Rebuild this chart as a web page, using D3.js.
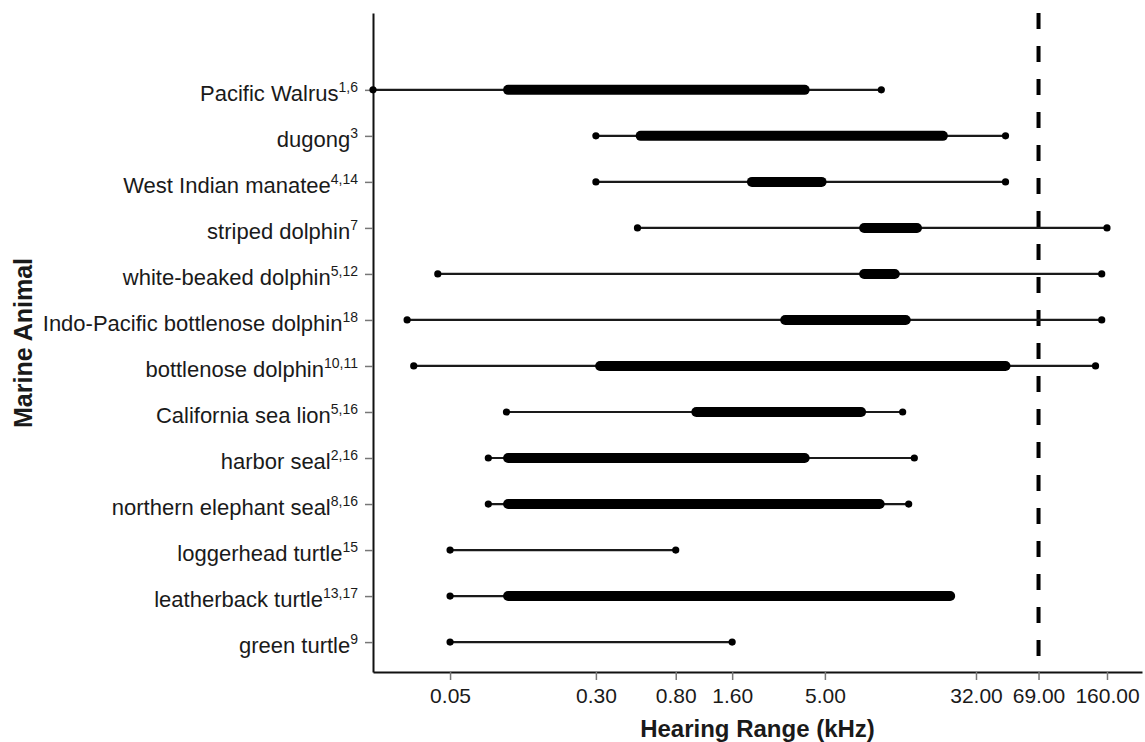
<!DOCTYPE html>
<html>
<head>
<meta charset="utf-8">
<script src="https://cdn.jsdelivr.net/npm/d3@7"></script>
<style>
  body { margin: 0; background: #fff; }
  text { font-family: Arial, "Liberation Sans", sans-serif; fill: #1a1a1a; }
</style>
</head>
<body>
<div id="chart"></div>
<script>
// species listed top to bottom, with reference superscripts
var animals = ["Pacific Walrus", "dugong", "West Indian manatee", "striped dolphin",
  "white-beaked dolphin", "Indo-Pacific bottlenose dolphin", "bottlenose dolphin",
  "California sea lion", "harbor seal", "northern elephant seal",
  "loggerhead turtle", "leatherback turtle", "green turtle"];
var refs = ["1,6", "3", "4,14", "7", "5,12", "18", "10,11", "5,16", "2,16", "8,16", "15", "13,17", "9"];

// full hearing range (kHz)
var minHz = [0.0194, 0.3, 0.3, 0.5, 0.043, 0.0295, 0.032, 0.1, 0.08, 0.08, 0.05, 0.05, 0.05];
var maxHz = [10, 46, 46, 160, 150, 150, 139, 13, 15, 14, 0.8, 23.3, 1.6];
// most sensitive range (kHz), null where none
var bestLow  = [0.102, 0.52, 2.04, 8.1, 8.1, 3.07, 0.316, 1.03, 0.102, 0.102, null, 0.102, null];
var bestHigh = [3.9, 21.3, 4.8, 15.5, 11.8, 13.5, 46, 7.8, 3.9, 9.8, null, 23.3, null];

var xTicks = [0.05, 0.3, 0.8, 1.6, 5, 32, 69, 160];
var cutoff = 69;

var width = 1145, height = 742;

var svg = d3.select("#chart").append("svg")
    .attr("width", width)
    .attr("height", height);

var x = d3.scaleLog()
    .domain([0.0194, 246])
    .range([373, 1142]);

var y = d3.scaleLinear()
    .domain([-1.67, 12.65])
    .range([13, 672]);

// x axis
var xAxis = svg.append("g")
    .attr("transform", "translate(0," + y.range()[1] + ")")
    .call(d3.axisBottom(x).tickValues(xTicks).tickFormat(d3.format(".2f")).tickSize(8).tickSizeOuter(0));
xAxis.select(".domain").attr("stroke", "#111").attr("stroke-width", 2);
xAxis.selectAll(".tick line").attr("stroke", "#777").attr("stroke-width", 1.5);
xAxis.selectAll(".tick text")
    .attr("y", 16)
    .style("font-size", "21px")
    .style("font-family", "Arial, 'Liberation Sans', sans-serif")
    .attr("fill", "#1a1a1a");

// y axis
var yAxis = svg.append("g")
    .attr("transform", "translate(" + x.range()[0] + ",0)")
    .call(d3.axisLeft(y).tickValues(d3.range(animals.length)).tickFormat("").tickSize(8).tickSizeOuter(0));
yAxis.select(".domain").attr("stroke", "#111").attr("stroke-width", 2);
yAxis.selectAll(".tick line").attr("stroke", "#777").attr("stroke-width", 1.5);

// species labels with superscripts
var labels = svg.append("g").selectAll("text")
    .data(animals)
    .join("text")
    .attr("x", x.range()[0] - 15)
    .attr("y", function(d, i) { return y(i) + 11; })
    .attr("text-anchor", "end")
    .style("font-size", "22px");
labels.append("tspan").text(function(d) { return d; });
labels.append("tspan")
    .attr("dy", -9)
    .style("font-size", "14px")
    .text(function(d, i) { return refs[i]; });

// cutoff dashed line
svg.append("line")
    .attr("x1", x(cutoff)).attr("x2", x(cutoff))
    .attr("y1", y.range()[0]).attr("y2", y.range()[1])
    .attr("stroke", "#000")
    .attr("stroke-width", 4)
    .attr("stroke-dasharray", "16,17");

var rows = svg.append("g").selectAll("g")
    .data(animals)
    .join("g");

// full range
rows.append("line")
    .attr("x1", function(d, i) { return x(minHz[i]); })
    .attr("x2", function(d, i) { return x(maxHz[i]); })
    .attr("y1", function(d, i) { return y(i); })
    .attr("y2", function(d, i) { return y(i); })
    .attr("stroke", "#1a1a1a")
    .attr("stroke-width", 2.2);

rows.append("circle")
    .attr("cx", function(d, i) { return x(minHz[i]); })
    .attr("cy", function(d, i) { return y(i); })
    .attr("r", 3.6)
    .attr("fill", "#000");
rows.append("circle")
    .attr("cx", function(d, i) { return x(maxHz[i]); })
    .attr("cy", function(d, i) { return y(i); })
    .attr("r", 3.6)
    .attr("fill", "#000");

// best sensitivity
rows.filter(function(d, i) { return bestLow[i] != null; })
  .append("line")
    .attr("x1", function(d) { var i = animals.indexOf(d); return x(bestLow[i]); })
    .attr("x2", function(d) { var i = animals.indexOf(d); return x(bestHigh[i]); })
    .attr("y1", function(d) { return y(animals.indexOf(d)); })
    .attr("y2", function(d) { return y(animals.indexOf(d)); })
    .attr("stroke", "#000")
    .attr("stroke-width", 10)
    .attr("stroke-linecap", "round");

// axis titles
svg.append("text")
    .attr("x", (x.range()[0] + x.range()[1]) / 2)
    .attr("y", 737)
    .attr("text-anchor", "middle")
    .style("font-size", "24px")
    .style("font-weight", "bold")
    .text("Hearing Range (kHz)");

svg.append("text")
    .attr("transform", "translate(32,343) rotate(-90)")
    .attr("text-anchor", "middle")
    .style("font-size", "25px")
    .style("font-weight", "bold")
    .text("Marine Animal");
</script>
</body>
</html>
